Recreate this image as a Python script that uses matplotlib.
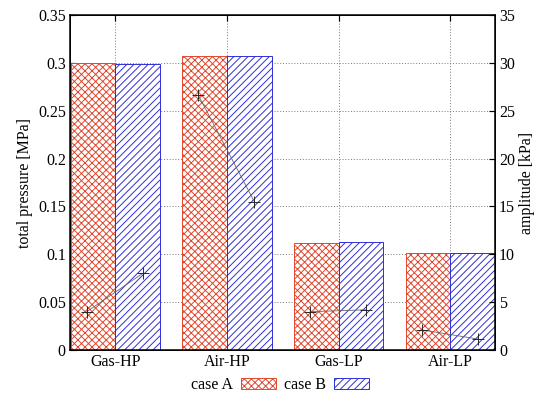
import numpy as np
import matplotlib.pyplot as plt

# data
categories = ['Gas-HP', 'Air-HP', 'Gas-LP', 'Air-LP']
pressure_a = [0.300, 0.307, 0.112, 0.101]
pressure_b = [0.299, 0.307, 0.113, 0.101]
amp_a = [4.0, 26.6, 4.0, 2.1]
amp_b = [8.0, 15.5, 4.2, 1.15]

plt.rcParams['font.family'] = 'Liberation Serif'
plt.rcParams['font.size'] = 13.5
plt.rcParams['hatch.linewidth'] = 0.8

dpi = 85
fig = plt.figure(figsize=(542 / dpi, 396 / dpi), dpi=dpi)
ax = fig.add_axes([70 / 542, 46 / 396, 425 / 542, 335 / 396])

red = '#e0442a'
blue = '#2a2ad8'
x = np.arange(len(categories))
w = 0.4

ax.grid(True, color='#555555', linestyle=(0, (1.5, 2.5)), linewidth=0.6)
ax.set_axisbelow(True)
ax.bar(x - w / 2, pressure_a, w, color='white', edgecolor=red, hatch='xxxx',
       linewidth=0.8, label='case A', zorder=2)
ax.bar(x + w / 2, pressure_b, w, color='white', edgecolor=blue, hatch='////',
       linewidth=0.8, label='case B', zorder=2)

ax.set_xlim(-0.405, 3.4)
ax.set_ylim(0, 0.35)
ax.set_yticks(np.arange(0, 0.351, 0.05))
ax.set_yticklabels(['0', '0.05', '0.1', '0.15', '0.2', '0.25', '0.3', '0.35'])
ax.set_xticks(x)
ax.set_xticklabels(categories)
ax.set_ylabel('total pressure [MPa]')
ax.tick_params(direction='in', length=5, width=1, top=True, right=False)
for s in ax.spines.values():
    s.set_linewidth(1.3)

ax2 = ax.twinx()
ax2.set_ylim(0, 35)
ax2.set_yticks(np.arange(0, 36, 5))
ax2.set_ylabel('amplitude [kPa]', labelpad=3)
ax2.tick_params(direction='in', length=5, width=1)
for i in range(len(categories)):
    ax2.plot([x[i] - 0.255, x[i] + 0.245], [amp_a[i], amp_b[i]], color='#666666',
             linewidth=0.7, marker='+', markersize=10, markeredgecolor='#222222',
             markeredgewidth=0.8, zorder=3)

fig.legend(loc='center', bbox_to_anchor=(0.516, 0.027), ncol=2, frameon=False,
           markerfirst=False, handlelength=2.2, handleheight=0.65, columnspacing=0.5,
           handletextpad=0.5, borderaxespad=0)

fig.savefig('out.png', dpi=dpi)
